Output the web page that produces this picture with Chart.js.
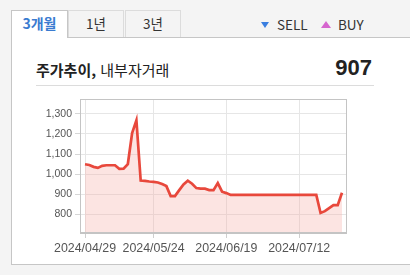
<!DOCTYPE html>
<html lang="ko">
<head>
<meta charset="utf-8">
<title>주가추이, 내부자거래</title>
<script src="https://cdn.jsdelivr.net/npm/chart.js@4/dist/chart.umd.min.js"></script>
<style>
  html, body { margin: 0; padding: 0; }
  body {
    width: 410px; height: 275px; overflow: hidden; position: relative;
    background: #f4f4f4;
    font-family: "Noto Sans CJK KR", "Noto Sans", sans-serif;
  }
  .panel {
    position: absolute; left: 11px; top: 37px; width: 420px; height: 226px;
    background: #fff; border: 1px solid #c6c6c6;
  }
  .tab {
    position: absolute; top: 10px; height: 27px; box-sizing: border-box;
    border: 1px solid #dcdcdc; border-bottom: none; background: #f4f4f4;
    text-align: center; font-size: 13.5px; line-height: 25px; color: #333;
  }
  .tab.on {
    height: 28px; background: #fff; border-color: #c6c6c6;
    color: #3a7bd0; font-weight: bold; font-size: 14px; z-index: 2;
  }
  .legend { position: absolute; top: 14px; font-size: 13.5px; line-height: 20px; color: #333; }
  .tri-down {
    position: absolute; width: 0; height: 0;
    border-left: 4px solid transparent; border-right: 4px solid transparent;
    border-top: 6px solid #3a7ee0;
  }
  .tri-up {
    position: absolute; width: 0; height: 0;
    border-left: 5.5px solid transparent; border-right: 5.5px solid transparent;
    border-bottom: 7px solid #d666cf;
  }
  .title { position: absolute; left: 36px; top: 59px; font-size: 15px; line-height: 22px; color: #222; }
  .title b { font-weight: bold; }
  .price {
    position: absolute; right: 38px; top: 54px; font-size: 22px; line-height: 28px;
    font-weight: bold; color: #222; font-family: "Liberation Sans", Arial, sans-serif;
  }
  .rule { position: absolute; left: 36px; top: 85px; width: 338px; height: 1px; background: #dcdcdc; }
  .chart-box { position: absolute; left: 30px; top: 90px; width: 317px; height: 172px; }
</style>
</head>
<body>
  <div class="panel"></div>
  <div class="tab on" style="left:11px;width:57px;">3개월</div>
  <div class="tab" style="left:68px;width:56px;">1년</div>
  <div class="tab" style="left:125px;width:56px;">3년</div>

  <div class="tri-down" style="left:261px;top:22px;"></div>
  <div class="legend" style="left:277px;">SELL</div>
  <div class="tri-up" style="left:321px;top:21px;"></div>
  <div class="legend" style="left:338px;">BUY</div>

  <div class="title"><b>주가추이,</b> 내부자거래</div>
  <div class="price">907</div>
  <div class="rule"></div>

  <div class="chart-box"><canvas id="chart"></canvas></div>

<script>
// Trading days shown on the 3-month view
const dates = [
  '2024/04/29','2024/04/30','2024/05/02','2024/05/03','2024/05/07','2024/05/08','2024/05/09','2024/05/10',
  '2024/05/13','2024/05/14','2024/05/16','2024/05/17','2024/05/20','2024/05/21','2024/05/22','2024/05/23',
  '2024/05/24','2024/05/27','2024/05/28','2024/05/29','2024/05/30','2024/05/31','2024/06/03','2024/06/04',
  '2024/06/05','2024/06/07','2024/06/10','2024/06/11','2024/06/12','2024/06/13','2024/06/14','2024/06/17',
  '2024/06/18','2024/06/19','2024/06/20','2024/06/21','2024/06/24','2024/06/25','2024/06/26','2024/06/27',
  '2024/06/28','2024/07/01','2024/07/02','2024/07/03','2024/07/04','2024/07/05','2024/07/08','2024/07/09',
  '2024/07/10','2024/07/11','2024/07/12','2024/07/15','2024/07/16','2024/07/17','2024/07/18','2024/07/19',
  '2024/07/22','2024/07/23','2024/07/24','2024/07/25','2024/07/26'
];

// Closing prices (KRW)
const prices = [
  1049, 1045, 1036, 1031, 1041, 1044, 1044, 1044,
  1026, 1027, 1050, 1205, 1268, 968, 966, 963,
  961, 958, 950, 940, 890, 890, 920, 948,
  967, 952, 930, 927, 927, 920, 920, 955,
  912, 905, 896, 896, 896, 896, 896, 896,
  896, 896, 896, 896, 896, 896, 896, 896,
  896, 896, 896, 896, 896, 896, 896, 806,
  815, 830, 845, 845, 907
];

// Axis labels
const xTickDates = ['2024/04/29', '2024/05/24', '2024/06/19', '2024/07/12'];
const yTickValues = [800, 900, 1000, 1100, 1200, 1300];

const points = prices.map((p, i) => ({ x: i, y: p }));
const xTickIdx = xTickDates.map(d => dates.indexOf(d));

// Outline around the whole plot area
const frame = {
  id: 'frame',
  afterDraw(chart) {
    const { ctx, chartArea: a } = chart;
    ctx.save();
    ctx.strokeStyle = '#c4c4c4';
    ctx.lineWidth = 1;
    ctx.strokeRect(Math.round(a.left) + 0.5, Math.round(a.top) + 0.5,
                   Math.round(a.right - a.left) - 1, Math.round(a.bottom - a.top) - 1);
    ctx.restore();
  }
};

new Chart(document.getElementById('chart'), {
  type: 'line',
  data: {
    datasets: [{
      data: points,
      borderColor: '#e8483c',
      borderWidth: 2.7,
      backgroundColor: 'rgba(246, 170, 164, 0.32)',
      fill: 'start',
      pointRadius: 0,
      tension: 0
    }]
  },
  options: {
    responsive: true,
    maintainAspectRatio: false,
    animation: false,
    layout: { padding: { top: 5, left: 0, right: 0, bottom: 0 } },
    plugins: { legend: { display: false }, tooltip: { enabled: false } },
    scales: {
      x: {
        type: 'linear',
        min: -1.17,
        max: 61.17,
        afterBuildTicks: s => { s.ticks = xTickIdx.map(v => ({ value: v })); },
        afterFit: s => { s.height = 29; },
        grid: { color: '#e6e6e6', tickColor: '#cfcfcf', tickLength: 5 },
        border: { color: '#c4c4c4' },
        ticks: {
          autoSkip: false, maxRotation: 0, padding: 3,
          color: '#555',
          font: { family: 'Liberation Sans, Arial, sans-serif', size: 12.4 },
          callback: v => dates[v]
        }
      },
      y: {
        min: 706,
        max: 1373,
        afterBuildTicks: s => { s.ticks = yTickValues.map(v => ({ value: v })); },
        afterFit: s => { s.width = 50; },
        grid: { color: '#e6e6e6', tickColor: '#d6d6d6', tickLength: 5 },
        border: { color: '#c4c4c4' },
        ticks: {
          padding: 3,
          color: '#555',
          font: { family: 'Liberation Sans, Arial, sans-serif', size: 10.5 },
          callback: v => v.toLocaleString('en-US')
        }
      }
    }
  },
  plugins: [frame]
});
</script>
</body>
</html>
